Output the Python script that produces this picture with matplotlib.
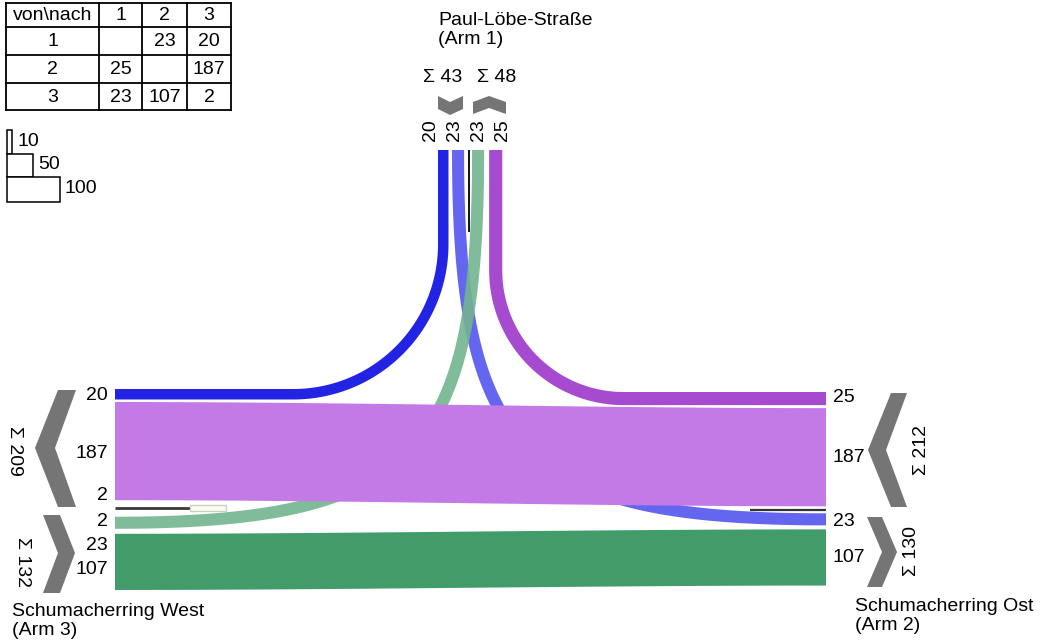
import numpy as np
import matplotlib
matplotlib.use("Agg")
import matplotlib.pyplot as plt
from matplotlib.patches import Polygon, Rectangle

plt.rcParams['font.family'] = ['Liberation Sans', 'DejaVu Sans']

# ---------------- data ----------------
arm_ids = ['1', '2', '3']
arm_titles = ['Paul-Löbe-Straße\n(Arm 1)', 'Schumacherring Ost\n(Arm 2)', 'Schumacherring West\n(Arm 3)']
# von (row) -> nach (column); None = no flow
flow_matrix = [[None, 23, 20],
               [25, None, 187],
               [23, 107, 2]]
legend_values = [10, 50, 100]

# colours per (von, nach)
flow_colors = {(0, 2): '#2323e4', (0, 1): '#5c5ef0', (2, 0): '#72b48f',
               (1, 0): '#a64bd0', (1, 2): '#c47ae6', (2, 1): '#419c6a'}

S = 0.525       # pixels per vehicle
FS = 14

fig = plt.figure(figsize=(10.48, 6.42), dpi=100)
ax = fig.add_axes([0, 0, 1, 1])
ax.set_xlim(0, 1048)
ax.set_ylim(642, 0)
ax.axis('off')

def val(i, j):
    return flow_matrix[i][j]

# ---------------- arm geometry (layout) ----------------
X_LEFT, X_RIGHT, Y_TOP = 115, 826, 150

def stack(start, items, gaps):
    out = {}
    pos = start
    for key, g in zip(items, gaps):
        pos += g
        w = val(*key) * S
        out[key] = (pos, pos + w)
        pos += w
    return out

left = stack(389, [(0, 2), (1, 2), (2, 2), (2, 0), (2, 1)], [0, 2.5, 7.5, 8, 5])
right = stack(392, [(1, 0), (1, 2), (0, 1), (2, 1)], [0, 3, 7, 4])
top = stack(438, [(0, 2), (0, 1), (2, 0), (1, 0)], [0, 3.5, 8, 5])

def mid(r):
    return 0.5 * (r[0] + r[1])

def band_from_centerline(pts, w):
    pts = np.asarray(pts, float)
    d = np.gradient(pts, axis=0)
    d /= np.linalg.norm(d, axis=1)[:, None]
    n = np.column_stack([-d[:, 1], d[:, 0]])
    a = pts + n * w / 2
    b = pts - n * w / 2
    return np.vstack([a, b[::-1]])

def arc_centerline(xc, yc, xside, R, side):
    pts = [(xc, Y_TOP)]
    ys = np.linspace(Y_TOP, yc - R, 20)
    pts += [(xc, y) for y in ys[1:]]
    if side == 'left':
        cx, cy = xc - R, yc - R
        th = np.linspace(0, np.pi / 2, 80)
    else:
        cx, cy = xc + R, yc - R
        th = np.linspace(np.pi, np.pi / 2, 80)
    pts += [(cx + R * np.cos(t), cy + R * np.sin(t)) for t in th[1:]]
    xs = np.linspace(cx, xside, 30)
    pts += [(x, yc) for x in xs[1:]]
    return pts

def bezier(p0, p1, p2, p3, n=200):
    t = np.linspace(0, 1, n)[:, None]
    p0, p1, p2, p3 = map(np.array, (p0, p1, p2, p3))
    return (1 - t) ** 3 * p0 + 3 * (1 - t) ** 2 * t * p1 + 3 * (1 - t) * t ** 2 * p2 + t ** 3 * p3

def draw_poly(poly, color, z, alpha=1.0):
    ax.add_patch(Polygon(poly, closed=True, facecolor=color, edgecolor='none', alpha=alpha, zorder=z))

# curved flows via top arm
k = (0, 2)
draw_poly(band_from_centerline(arc_centerline(mid(top[k]), mid(left[k]), X_LEFT, 150, 'left'), val(*k) * S),
          flow_colors[k], 2)
k = (1, 0)
draw_poly(band_from_centerline(arc_centerline(mid(top[k]), mid(right[k]), X_RIGHT, 128, 'right'), val(*k) * S),
          flow_colors[k], 2)
k = (0, 1)
xc, yc = mid(top[k]), mid(right[k])
draw_poly(band_from_centerline(bezier((xc, Y_TOP), (xc, 450), (520, yc), (X_RIGHT, yc)), val(*k) * S),
          flow_colors[k], 2, 0.95)
k = (2, 0)
xc, yc = mid(top[k]), mid(left[k])
draw_poly(band_from_centerline(bezier((xc, Y_TOP), (xc, 450), (420, yc), (X_LEFT, yc)), val(*k) * S),
          flow_colors[k], 2.5, 0.9)

# straight flows between left and right arms
def horizontal_band(l, r, color, z, alpha=1.0):
    t = np.linspace(0, 1, 100)
    s = 3 * t ** 2 - 2 * t ** 3
    x = X_LEFT + t * (X_RIGHT - X_LEFT)
    ytop = l[0] + (r[0] - l[0]) * s
    ybot = l[1] + (r[1] - l[1]) * s
    poly = np.vstack([np.column_stack([x, ytop]), np.column_stack([x[::-1], ybot[::-1]])])
    draw_poly(poly, color, z, alpha)

horizontal_band(left[(2, 1)], right[(2, 1)], flow_colors[(2, 1)], 3)
horizontal_band(left[(1, 2)], right[(1, 2)], flow_colors[(1, 2)], 4)

# U-turn arm 3 and separator marks
yu = mid(left[(2, 2)])
ax.plot([X_LEFT, 190], [yu, yu], color='#3a3a3a', lw=2, zorder=5, solid_capstyle='butt')
ax.add_patch(Rectangle((190, yu - 3), 36, 6, facecolor='#fbfbf2', edgecolor='#c9d3c4', lw=1, zorder=5))
ax.plot([750, X_RIGHT], [510, 510], color='#333333', lw=1.6, zorder=5, solid_capstyle='butt')
ax.plot([468.5, 468.5], [Y_TOP, 232], color='#111111', lw=1.4, zorder=5, solid_capstyle='butt')

# ---------------- direction chevrons ----------------
gray = '#757575'
chev = [
    [(58, 390), (76, 390), (55, 448), (76, 507), (58, 507), (35, 448)],
    [(43, 515), (60, 515), (75, 553), (60, 593), (43, 593), (58, 553)],
    [(891, 393), (907, 393), (886, 450), (907, 507), (891, 507), (868, 450)],
    [(867, 517), (882, 517), (897, 552), (882, 587), (867, 587), (882, 552)],
    [(438, 96), (450, 102), (463, 96), (463, 109), (450, 115), (438, 109)],
    [(473, 102), (489, 96), (506, 102), (506, 114), (489, 108), (473, 114)],
]
for c in chev:
    ax.add_patch(Polygon(c, closed=True, facecolor=gray, edgecolor='none', zorder=3))

# sums
out_sum = [sum(v for v in row if v) for row in flow_matrix]
in_sum = [sum(flow_matrix[i][j] for i in range(3) if flow_matrix[i][j]) for j in range(3)]

ax.text(443, 77, f'Σ {out_sum[0]}', ha='center', va='center', fontsize=FS)
ax.text(497, 77, f'Σ {in_sum[0]}', ha='center', va='center', fontsize=FS)
ax.text(14, 451, f'Σ {in_sum[2]}', ha='center', va='center', rotation=270, fontsize=FS)
ax.text(22, 562, f'Σ {out_sum[2]}', ha='center', va='center', rotation=270, fontsize=FS)
ax.text(921, 450, f'Σ {out_sum[1]}', ha='center', va='center', rotation=90, fontsize=FS)
ax.text(911, 551, f'Σ {in_sum[1]}', ha='center', va='center', rotation=90, fontsize=FS)

# value labels
top_keys = [(0, 2), (0, 1), (2, 0), (1, 0)]
for key, x in zip(top_keys, [431, 455, 479, 503]):
    ax.text(x, 130, str(val(*key)), rotation=90, ha='center', va='center', fontsize=FS)
left_keys = [(0, 2), (1, 2), (2, 2), (2, 2), (2, 0), (2, 1)]
for key, y in zip(left_keys, [395, 453, 496, 522, 546, 570]):
    ax.text(108, y, str(val(*key)), ha='right', va='center', fontsize=FS)
right_keys = [(1, 0), (1, 2), (0, 1), (2, 1)]
for key, y in zip(right_keys, [398, 457, 522, 557]):
    ax.text(833, y, str(val(*key)), ha='left', va='center', fontsize=FS)

# arm titles
ax.text(438, 30, arm_titles[0], ha='left', va='center', fontsize=FS, linespacing=1.15)
ax.text(855, 616, arm_titles[1], ha='left', va='center', fontsize=FS, linespacing=1.15)
ax.text(12, 621, arm_titles[2], ha='left', va='center', fontsize=FS, linespacing=1.15)

# ---------------- matrix table ----------------
col_edges = [6, 99, 142, 187, 231]
row_edges = [3, 27, 55, 83, 110]
for x in col_edges:
    ax.plot([x, x], [row_edges[0], row_edges[-1]], color='black', lw=1.3, zorder=6)
for y in row_edges:
    ax.plot([col_edges[0], col_edges[-1]], [y, y], color='black', lw=1.3, zorder=6)
header = ['von\\nach'] + arm_ids
cells = [header] + [[arm_ids[i]] + ['' if v is None else str(v) for v in flow_matrix[i]] for i in range(3)]
for r, row in enumerate(cells):
    for c, txt in enumerate(row):
        ax.text(0.5 * (col_edges[c] + col_edges[c + 1]), 0.5 * (row_edges[r] + row_edges[r + 1]) + 0.5,
                txt, ha='center', va='center', fontsize=FS)

# ---------------- size legend ----------------
leg_y = [130, 154, 177]
leg_h = [24, 23, 25]
for v, y, h in zip(legend_values, leg_y, leg_h):
    w = v * S
    ax.add_patch(Rectangle((7, y), w, h, facecolor='white', edgecolor='black', lw=1.1, zorder=6))
    ax.text(7 + w + 5, y + h / 2 - 1, str(v), ha='left', va='center', fontsize=FS, zorder=7)

fig.savefig('out.png', dpi=100)
